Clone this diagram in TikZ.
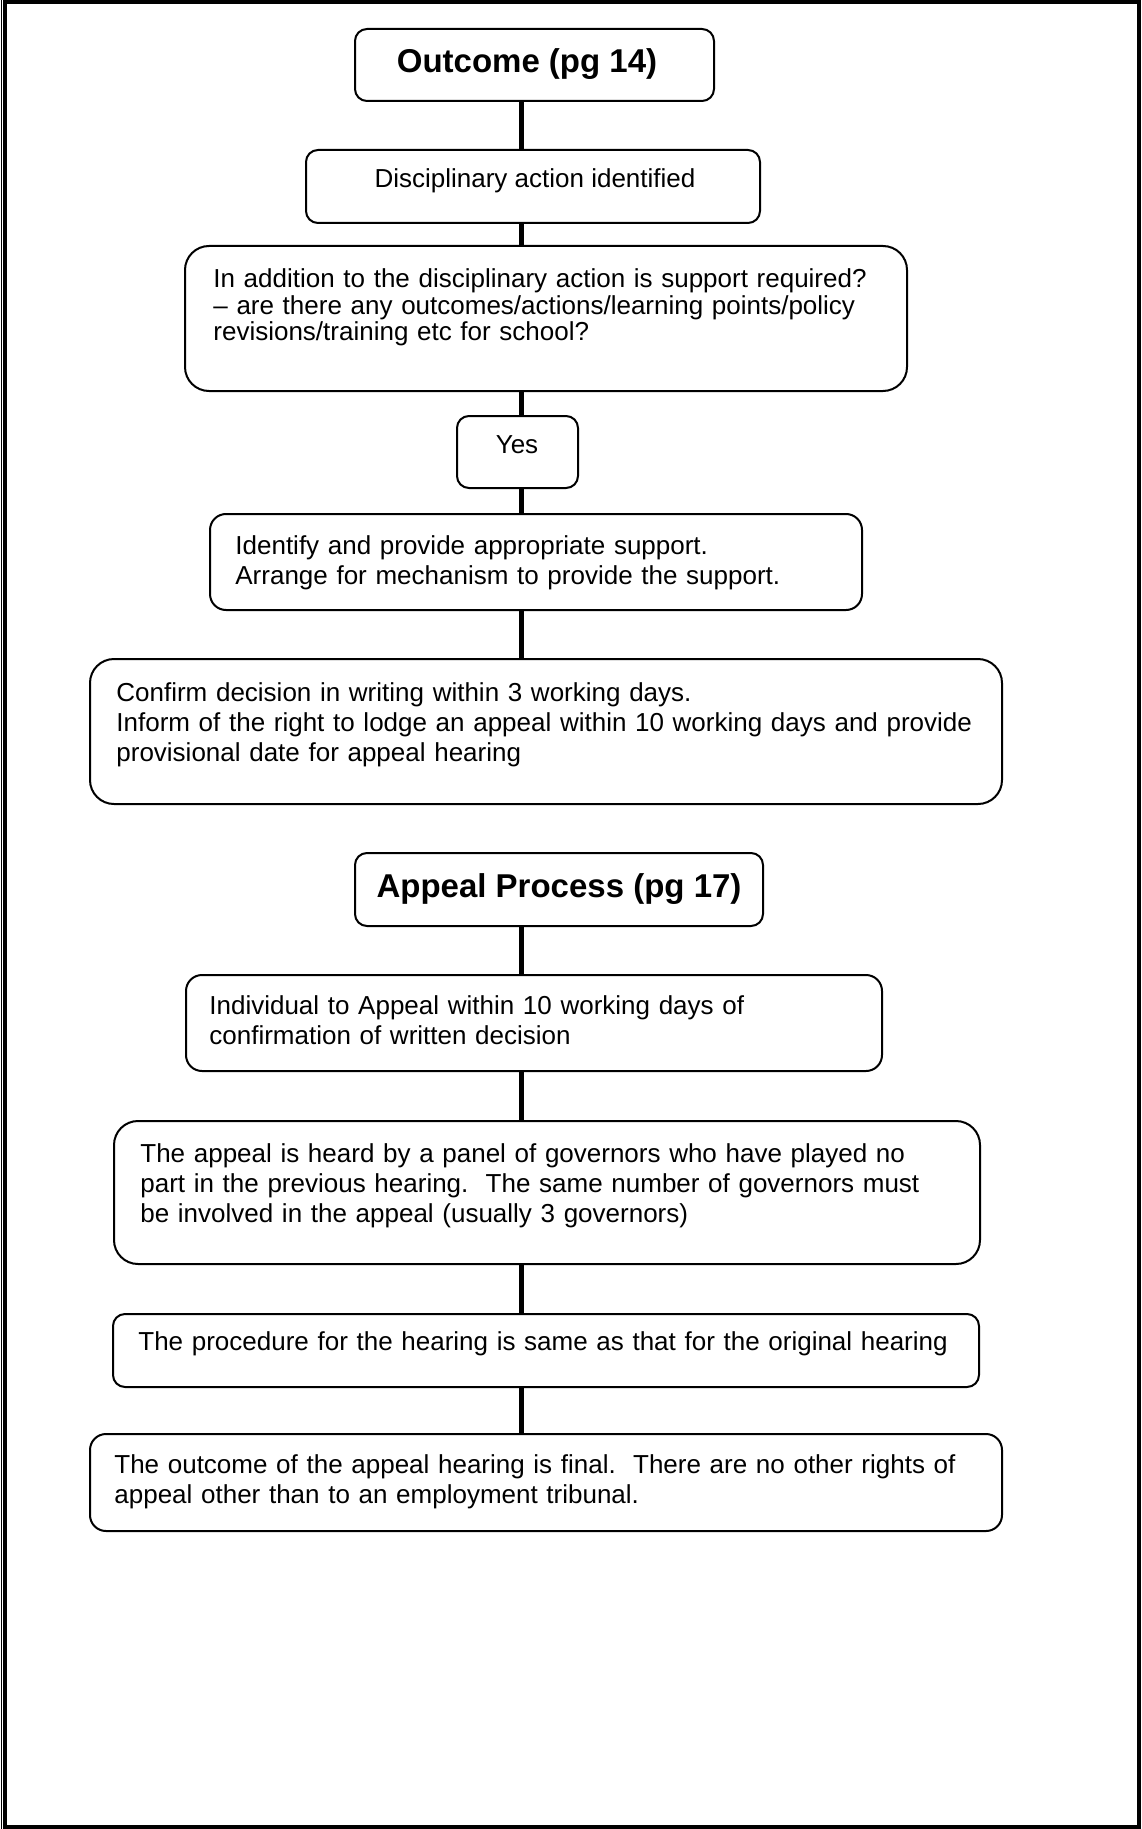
\documentclass[tikz,border=0pt]{standalone}
\usepackage{fontspec}
\setmainfont{Liberation Sans}
\usetikzlibrary{fit}
\frenchspacing

\begin{document}
\begin{tikzpicture}[x = 0.5pt, y = -0.5pt]
\tikzstyle{BoxStyle}=[draw, line width = 1pt, inner sep = 0pt,
                      rounded corners = 6pt]
\tikzstyle{TextStyle}=[inner sep = 0pt, anchor = base west, align = left,
                       text width = 480pt, font = \fontsize{13pt}{15pt}\selectfont]
\tikzstyle{LineStyle}=[inner sep = 0pt, anchor = base,
                       font = \fontsize{13pt}{15pt}\selectfont]
\tikzstyle{TitleStyle}=[inner sep = 0pt, anchor = base,
                        font = \fontsize{16.5pt}{19pt}\selectfont\bfseries]
\tikzstyle{EdgeStyle}=[line width = 2.5pt]
\useasboundingbox (0,0) rectangle (1141,1829);
\draw[line width = 2pt] (4.5,2) rectangle (1139,1827);
\draw[line width = 0.75pt] (1.5,0) -- (1.5,1829);
\coordinate (spine) at (521,0);
\node[BoxStyle, fit = {(355,29) (714,101)}] (b0) {};
\node[BoxStyle, fit = {(306,150) (760,223)}] (b1) {};
\node[BoxStyle, fit = {(185,246) (907,391)}, rounded corners = 12pt] (b2) {};
\node[BoxStyle, fit = {(457,416) (578,488)}] (b3) {};
\node[BoxStyle, fit = {(210,514) (862,610)}, rounded corners = 8pt] (b4) {};
\node[BoxStyle, fit = {(90,659) (1002,804)}, rounded corners = 12pt] (b5) {};
\node[BoxStyle, fit = {(355,853) (763,926)}] (b6) {};
\node[BoxStyle, fit = {(186,975) (882,1071)}, rounded corners = 8pt] (b7) {};
\node[BoxStyle, fit = {(114,1121) (980,1264)}, rounded corners = 12pt] (b8) {};
\node[BoxStyle, fit = {(113,1314) (979,1387)}] (b9) {};
\node[BoxStyle, fit = {(90,1434) (1002,1531)}, rounded corners = 8pt] (b10) {};
\node[TitleStyle] (t0) at (527,73) {Outcome (pg 14)};
\node[LineStyle] (t1) at (535,188) {Disciplinary action identified};
\node[TextStyle, font = \fontsize{13pt}{11.9pt}\selectfont] (t2) at (213,288) {In addition to the disciplinary action is support required?\\
-- are there any outcomes/actions/learning points/policy\\
revisions/training etc for school?};
\node[LineStyle] (t3) at (517,453) {Yes};
\node[TextStyle] (t4) at (235,554) {Identify and provide appropriate support.\\
Arrange for mechanism to provide the support.};
\node[TextStyle] (t5) at (116,701) {Confirm decision in writing within 3 working days.\\
Inform of the right to lodge an appeal within 10 working days and provide\\
provisional date for appeal hearing};
\node[TitleStyle] (t6) at (559,897) {Appeal Process (pg 17)};
\node[TextStyle] (t7) at (209,1014) {Individual to Appeal within 10 working days of\\
confirmation of written decision};
\node[TextStyle] (t8) at (140,1162) {The appeal is heard by a panel of governors who have played no\\
part in the previous hearing. \ The same number of governors must\\
be involved in the appeal (usually 3 governors)};
\node[TextStyle] (t9) at (138,1350) {The procedure for the hearing is same as that for the original hearing};
\node[TextStyle] (t10) at (114,1473) {The outcome of the appeal hearing is final. \ There are no other rights of\\
appeal other than to an employment tribunal.};
\draw[EdgeStyle] (b0.south -| spine) -- (b1.north -| spine);
\draw[EdgeStyle] (b1.south -| spine) -- (b2.north -| spine);
\draw[EdgeStyle] (b2.south -| spine) -- (b3.north -| spine);
\draw[EdgeStyle] (b3.south -| spine) -- (b4.north -| spine);
\draw[EdgeStyle] (b4.south -| spine) -- (b5.north -| spine);
\draw[EdgeStyle] (b6.south -| spine) -- (b7.north -| spine);
\draw[EdgeStyle] (b7.south -| spine) -- (b8.north -| spine);
\draw[EdgeStyle] (b8.south -| spine) -- (b9.north -| spine);
\draw[EdgeStyle] (b9.south -| spine) -- (b10.north -| spine);
\end{tikzpicture}
\end{document}
